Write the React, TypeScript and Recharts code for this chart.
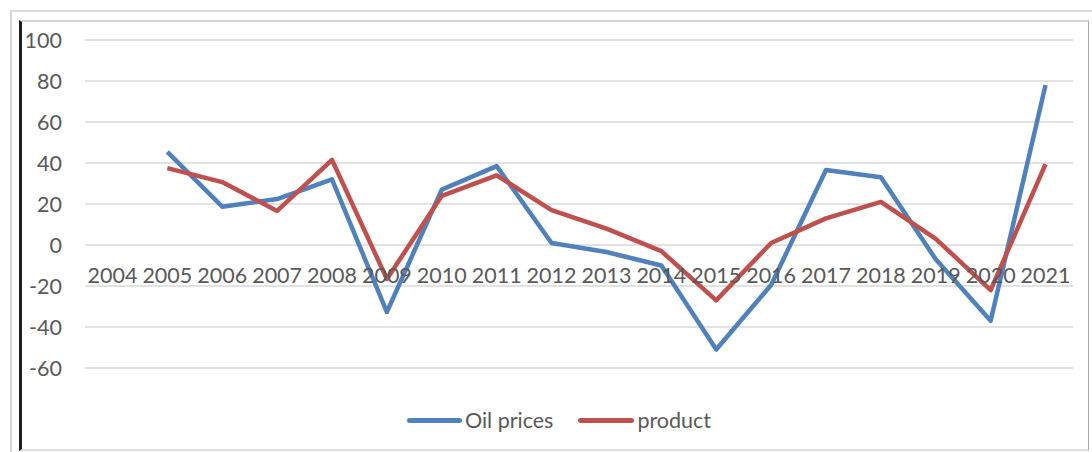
import React from "react";
import { LineChart, Line, CartesianGrid, XAxis, YAxis } from "recharts";

const years = ["2004", "2005", "2006", "2007", "2008", "2009", "2010", "2011", "2012", "2013", "2014", "2015", "2016", "2017", "2018", "2019", "2020", "2021"];
const oilPrices = [null, 45.4, 18.7, 22.4, 32, -32.7, 27, 38.5, 1, -3.4, -10, -51, -19.5, 36.6, 33, -7, -37, 78];
const product = [null, 37.5, 30.7, 16.6, 41.5, -16.6, 24, 34, 17, 8, -3, -27, 1, 13, 21, 3, -22, 39.5];
const yTicks = [100, 80, 60, 40, 20, 0, -20, -40, -60];

const data = years.map((year, i) => ({ year, oil: oilPrices[i], product: product[i] }));

const BLUE = "#4F81BD";
const RED = "#C0504D";
const TEXT = "#595959";
const FONT = "Lato, 'Open Sans', sans-serif";
const FS = 21.5;

const CHART_W = 1066;
const CHART_H = 428;
const TOP = 18;
const PLOT_H = 328;
// labels sit just under the zero line, the way Excel draws them
const ZERO_Y = TOP + (PLOT_H * 100) / 160;

const YearTick = (props: any) => (
  <text x={props.x} y={ZERO_Y + 38} textAnchor="middle" fill={TEXT} fontSize={FS} fontFamily={FONT}>
    {props.payload.value}
  </text>
);

const LegendBox = () => (
  <div style={{ position: "absolute", left: 0, top: 407, width: 1118, display: "flex", justifyContent: "center", alignItems: "center", fontFamily: FONT, fontSize: FS, color: TEXT }}>
    <span style={{ display: "inline-block", width: 55, height: 5, borderRadius: 3, background: BLUE, marginRight: 3 }} />
    <span style={{ marginRight: 25 }}>Oil prices</span>
    <span style={{ display: "inline-block", width: 56, height: 5, borderRadius: 3, background: RED, marginRight: 3 }} />
    <span>product</span>
  </div>
);

export default function App() {
  return (
    <div style={{ position: "absolute", left: 0, top: 0, width: 1092, height: 452, background: "#fff" }}>
      <div style={{ position: "absolute", left: 10, top: 10, width: 1082, height: 442, borderLeft: "2px solid #d4d4d4", borderTop: "2px solid #dadada", boxSizing: "border-box" }} />
      <div style={{ position: "absolute", left: 19, top: 20, width: 1070, height: 431, borderLeft: "3px solid #1e1e1e", borderTop: "2px solid #d6d6d6", borderRight: "1px solid #a8a8a8", borderBottom: "2px solid #dedede", boxSizing: "border-box" }} />
      <div style={{ position: "absolute", left: 22, top: 22 }}>
        <LineChart width={CHART_W} height={CHART_H} data={data} margin={{ top: TOP, right: 15, left: 0, bottom: 81 }}>
          <CartesianGrid horizontal vertical={false} stroke="#d9d9d9" strokeWidth={1.5} />
          <XAxis dataKey="year" scale="band" axisLine={false} tickLine={false} height={1} interval={0} tick={<YearTick />} />
          <YAxis
            domain={[-60, 100]}
            ticks={yTicks}
            width={63}
            axisLine={false}
            tickLine={false}
            tickSize={0}
            tickMargin={23}
            tick={{ fill: TEXT, fontSize: FS, fontFamily: FONT }}
          />
          <Line dataKey="oil" name="Oil prices" stroke={BLUE} strokeWidth={4.5} dot={false} isAnimationActive={false} strokeLinejoin="round" />
          <Line dataKey="product" name="product" stroke={RED} strokeWidth={4.5} dot={false} isAnimationActive={false} strokeLinejoin="round" />
        </LineChart>
      </div>
      <LegendBox />
    </div>
  );
}
